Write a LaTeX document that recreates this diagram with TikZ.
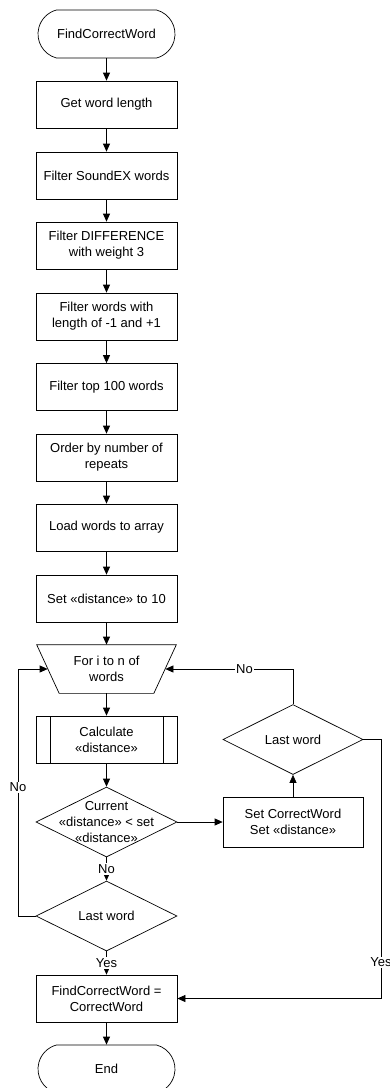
\documentclass[tikz,border=0pt]{standalone}
\usepackage{fontspec}
\setmainfont{Liberation Sans}
\usetikzlibrary{arrows.meta,shapes.geometric,shapes.misc}

\tikzset{
    base/.style={draw, line width=0.7pt, font=\fontsize{13}{16}\selectfont, align=center, inner sep=2pt},
    terminal/.style={base, rounded rectangle, rounded rectangle arc length=150, minimum width=141pt, minimum height=48pt},
    process/.style={base, rectangle, minimum width=141pt, minimum height=47pt},
    subproc/.style={process, path picture={
        \draw[line width=0.7pt] ([xshift=14pt]path picture bounding box.north west) -- ([xshift=14pt]path picture bounding box.south west)
              ([xshift=-14pt]path picture bounding box.north east) -- ([xshift=-14pt]path picture bounding box.south east);}},
    loopstart/.style={process, draw=none, minimum width=139pt, minimum height=48pt},
    decision/.style={base, diamond, minimum width=141pt, minimum height=70pt, inner sep=0pt},
    inside/.style={font=\fontsize{13}{16}\selectfont, align=center},
    flow/.style={line width=0.7pt, -{Triangle[length=8pt,width=7pt]}},
    lbl/.style={fill=white, font=\fontsize{13}{16}\selectfont, inner sep=1pt}
}

\begin{document}
\begin{tikzpicture}[x=1pt, y=-1pt]
    \useasboundingbox (0,0) rectangle (390,1088);
    \clip (0,0) rectangle (390,1088);
    % main column
    \node[terminal] (start) at (106.5,34) {FindCorrectWord};
    \node[process] (len)    at (106.5,104.5) {Get word length};
    \node[process] (sndx)   at (106.5,175.5) {Filter SoundEX words};
    \node[process] (diff)   at (106.5,245.5) {Filter DIFFERENCE\\with weight 3};
    \node[process] (plmn)   at (106.5,316.5) {Filter words with\\length of -1 and +1};
    \node[process] (top)    at (106.5,387) {Filter top 100 words};
    \node[process] (order)  at (106.5,457.5) {Order by number of\\repeats};
    \node[process] (load)   at (106.5,527.5) {Load words to array};
    \node[process] (init)   at (106.5,598.5) {Set «distance» to 10};
    \node[loopstart] (for)  at (106.5,669) {For i to n of\\words};
    \draw[line width=0.7pt] (for.north west) -- (for.north east) -- ([xshift=-22.5pt]for.south east) -- ([xshift=22.5pt]for.south west) -- cycle;
    \coordinate (forL) at ([xshift=11pt]for.west);
    \coordinate (forR) at ([xshift=-11pt]for.east);
    \node[subproc] (calc)   at (106.5,739.5) {Calculate\\«distance»};
    \node[decision, label={[inside]center:Current\\«distance» < set\\«distance»}] (cond) at (106.5,822) {};
    \node[decision, label={[inside]center:Last word}] (lastL) at (106.5,916) {};
    \node[process] (result) at (106.5,998.5) {FindCorrectWord =\\CorrectWord};
    \node[terminal] (stop)  at (106.5,1069) {End};
    % right column
    \node[process, minimum width=140pt, minimum height=50pt] (setcw) at (293,822) {Set CorrectWord\\Set «distance»};
    \node[decision, minimum width=140pt, label={[inside]center:Last word}] (lastR) at (293,739.5) {};
    \coordinate (loopL) at (18,916);
    \coordinate (loopR) at (381,739.5);

    \foreach \a/\b in {start/len, len/sndx, sndx/diff, diff/plmn, plmn/top, top/order, order/load, load/init, init/for, for/calc, calc/cond, result/stop} {
        \draw[flow] (\a.south) -- (\b.north);
    }
    \draw[flow] (cond.east) -- (setcw.west);
    \draw[flow] (setcw.north) -- (lastR.south);
    \draw[flow] (lastR.north) |- node[lbl, pos=0.69] {No} (forR);
    \draw[flow] (cond.south) -- node[lbl] {No} (lastL.north);
    \draw[flow] (lastL.south) -- node[lbl] {Yes} (result.north);
    \draw[flow] (lastL.west) -- (loopL) |- node[lbl, pos=0.26] {No} (forL);
    \draw[flow] (lastR.east) -- (loopR) |- node[lbl, pos=0.43] {Yes} (result.east);
\end{tikzpicture}
\end{document}
